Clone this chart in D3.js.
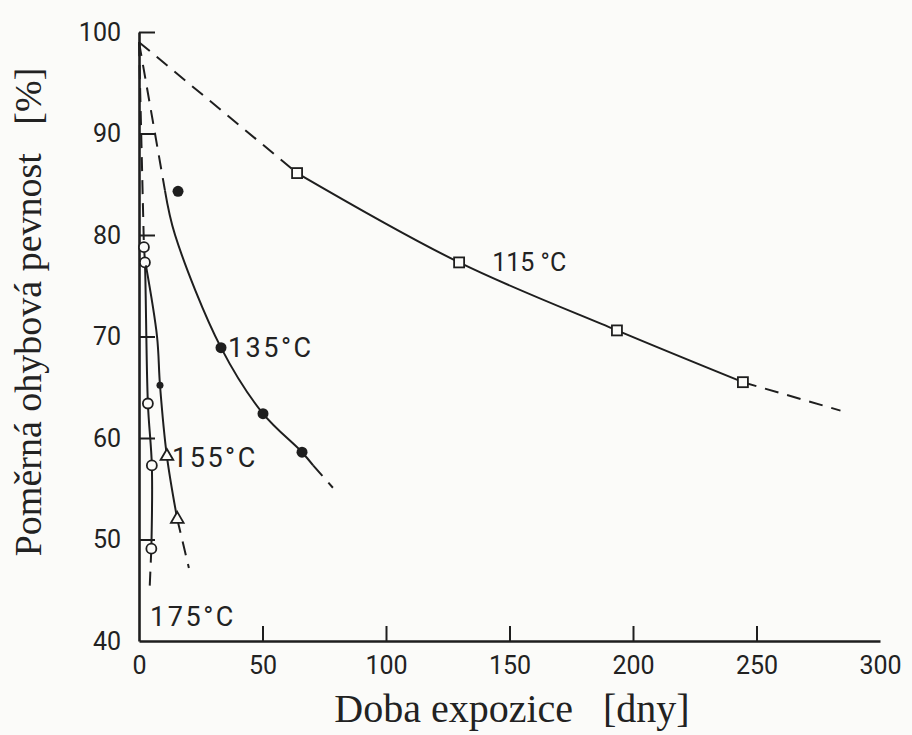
<!DOCTYPE html>
<html lang="cs">
<head>
<meta charset="UTF-8">
<title>Poměrná ohybová pevnost</title>
<script src="https://cdn.jsdelivr.net/npm/d3@7"></script>
<style>
  body { margin: 0; background: #fbfbf9; }
  svg { display: block; }
  .tick text { font-family: Roboto, "DejaVu Sans", sans-serif; font-size: 25px; fill: #222; }
  .lbl { font-family: Roboto, "DejaVu Sans", sans-serif; font-size: 27px; fill: #222; letter-spacing: 2.5px; }
  .lbl.narrow { font-size: 25px; letter-spacing: 0; }
  .title { font-family: "Liberation Serif", "Times New Roman", serif; fill: #222; }
</style>
</head>
<body>
<svg id="chart" width="912" height="735"></svg>
<script>
// days of exposure vs. relative bending strength [%]
const xTicks = [0, 50, 100, 150, 200, 250, 300];
const yTicks = [40, 50, 60, 70, 80, 90, 100];

// 115 °C
const s115Days  = [64, 129.6, 193.5, 244.5];
const s115Vals  = [86.1, 77.3, 70.6, 65.5];
const s115Start = [0, 99];
const s115End   = [284, 62.7];

// 135 °C
const s135LineDays = [10.5, 14.6, 33.2, 50.2, 66, 70.5];
const s135LineVals = [84.4, 80.0, 68.9, 62.4, 58.6, 57.3];
const s135PtDays   = [33.2, 50.2, 66];
const s135PtVals   = [68.9, 62.4, 58.6];
const s135Outlier  = [15.8, 84.3];
const s135Start    = [0, 99];
const s135End      = [78.5, 55.1];

// 155 °C
const s155LineDays = [2.8, 7.3, 8.5, 11.3, 15.5];
const s155LineVals = [77.0, 70.0, 65.2, 58.2, 52.0];
const s155DotDays  = [8.5];
const s155DotVals  = [65.2];
const s155TriDays  = [11.3, 15.5];
const s155TriVals  = [58.2, 52.0];
const s155End      = [20.2, 47.2];

// 175 °C
const s175LineDays = [2.0, 2.4, 3.6, 5.2, 5.0];
const s175LineVals = [78.8, 77.3, 63.4, 57.3, 49.1];
const s175Start    = [0, 99];
const s175End      = [4.2, 44.6];

const labels = [
  { text: "115 °C", x: 143, y: 77.3, cls: "lbl narrow" },
  { text: "135°C", x: 36, y: 68.9, cls: "lbl" },
  { text: "155°C", x: 13.4, y: 58.1, cls: "lbl" },
  { text: "175°C", x: 4.5, y: 42.4, cls: "lbl" }
];

const svg = d3.select("#chart");
const x = d3.scaleLinear().domain([0, 300]).range([139, 880]);
const y = d3.scaleLinear().domain([40, 100]).range([641, 32]);
const ink = "#1e1e1e";

const zip = (a, b) => a.map((d, i) => [d, b[i]]);
const solid = d3.line().x(d => x(d[0])).y(d => y(d[1])).curve(d3.curveCatmullRom.alpha(0.5));
const straight = d3.line().x(d => x(d[0])).y(d => y(d[1]));

function dashed(pts) {
  svg.append("path").attr("d", straight(pts))
    .attr("fill", "none").attr("stroke", ink).attr("stroke-width", 2)
    .attr("stroke-dasharray", "14 9");
}
function curve(pts) {
  svg.append("path").attr("d", solid(pts))
    .attr("fill", "none").attr("stroke", ink).attr("stroke-width", 2);
}

// axes
const xAxis = svg.append("g").attr("transform", `translate(0,${y(40)})`)
  .call(d3.axisBottom(x).tickValues(xTicks).tickSizeInner(-15).tickSizeOuter(0).tickPadding(14));
const yAxis = svg.append("g").attr("transform", `translate(${x(0)},0)`)
  .call(d3.axisLeft(y).tickValues(yTicks).tickSizeInner(-16).tickSizeOuter(0).tickPadding(16));
[xAxis, yAxis].forEach(g => {
  g.select(".domain").attr("stroke", ink).attr("stroke-width", 2.6);
  g.selectAll(".tick line").attr("stroke", ink).attr("stroke-width", 2);
});
xAxis.selectAll(".tick").filter(d => d === 0 || d === 300).select("line").remove();
yAxis.selectAll(".tick").filter(d => d === 40).select("line").remove();
xAxis.selectAll(".tick text").attr("dy", "0.75em");
yAxis.selectAll(".tick text").attr("dx", "-2");

// 115 °C
dashed([s115Start, [s115Days[0], s115Vals[0]]]);
curve(zip(s115Days, s115Vals));
dashed([[s115Days[3], s115Vals[3]], s115End]);
svg.append("g").selectAll("rect").data(zip(s115Days, s115Vals)).join("rect")
  .attr("x", d => x(d[0]) - 5).attr("y", d => y(d[1]) - 5)
  .attr("width", 10).attr("height", 10)
  .attr("fill", "#fbfbf9").attr("stroke", ink).attr("stroke-width", 1.8);

// 135 °C
dashed([s135Start, [s135LineDays[0], s135LineVals[0]]]);
curve(zip(s135LineDays, s135LineVals));
dashed([[s135LineDays[5], s135LineVals[5]], s135End]);
svg.append("g").selectAll("circle").data(zip(s135PtDays, s135PtVals).concat([s135Outlier])).join("circle")
  .attr("cx", d => x(d[0])).attr("cy", d => y(d[1])).attr("r", 5.5).attr("fill", ink);

// 175 °C
dashed([s175Start, [s175LineDays[0], s175LineVals[0]]]);
curve(zip(s175LineDays, s175LineVals));
dashed([[s175LineDays[4], s175LineVals[4]], s175End]);
svg.append("g").selectAll("circle").data(zip(s175LineDays, s175LineVals)).join("circle")
  .attr("cx", d => x(d[0])).attr("cy", d => y(d[1])).attr("r", 5)
  .attr("fill", "#fbfbf9").attr("stroke", ink).attr("stroke-width", 1.8);

// 155 °C
curve(zip(s155LineDays, s155LineVals));
dashed([[s155LineDays[4], s155LineVals[4]], s155End]);
svg.append("g").selectAll("circle").data(zip(s155DotDays, s155DotVals)).join("circle")
  .attr("cx", d => x(d[0])).attr("cy", d => y(d[1])).attr("r", 3.5).attr("fill", ink);
const tri = d3.symbol().type(d3.symbolTriangle).size(70);
svg.append("g").selectAll("path").data(zip(s155TriDays, s155TriVals)).join("path")
  .attr("d", tri).attr("transform", d => `translate(${x(d[0])},${y(d[1])})`)
  .attr("fill", "#fbfbf9").attr("stroke", ink).attr("stroke-width", 1.8);

// curve labels
svg.append("g").selectAll("text").data(labels).join("text")
  .attr("class", d => d.cls)
  .attr("x", d => x(d.x)).attr("y", d => y(d.y)).attr("dy", "0.36em")
  .text(d => d.text);

// axis titles
svg.append("text").attr("class", "title")
  .attr("x", 512).attr("y", 722).attr("text-anchor", "middle")
  .style("font-size", "40px")
  .attr("xml:space", "preserve")
  .text("Doba expozice   [dny]");
svg.append("text").attr("class", "title")
  .attr("transform", "translate(41,312) rotate(-90)").attr("text-anchor", "middle")
  .style("font-size", "38px")
  .attr("xml:space", "preserve")
  .text("Poměrná ohybová pevnost   [%]");
</script>
</body>
</html>
